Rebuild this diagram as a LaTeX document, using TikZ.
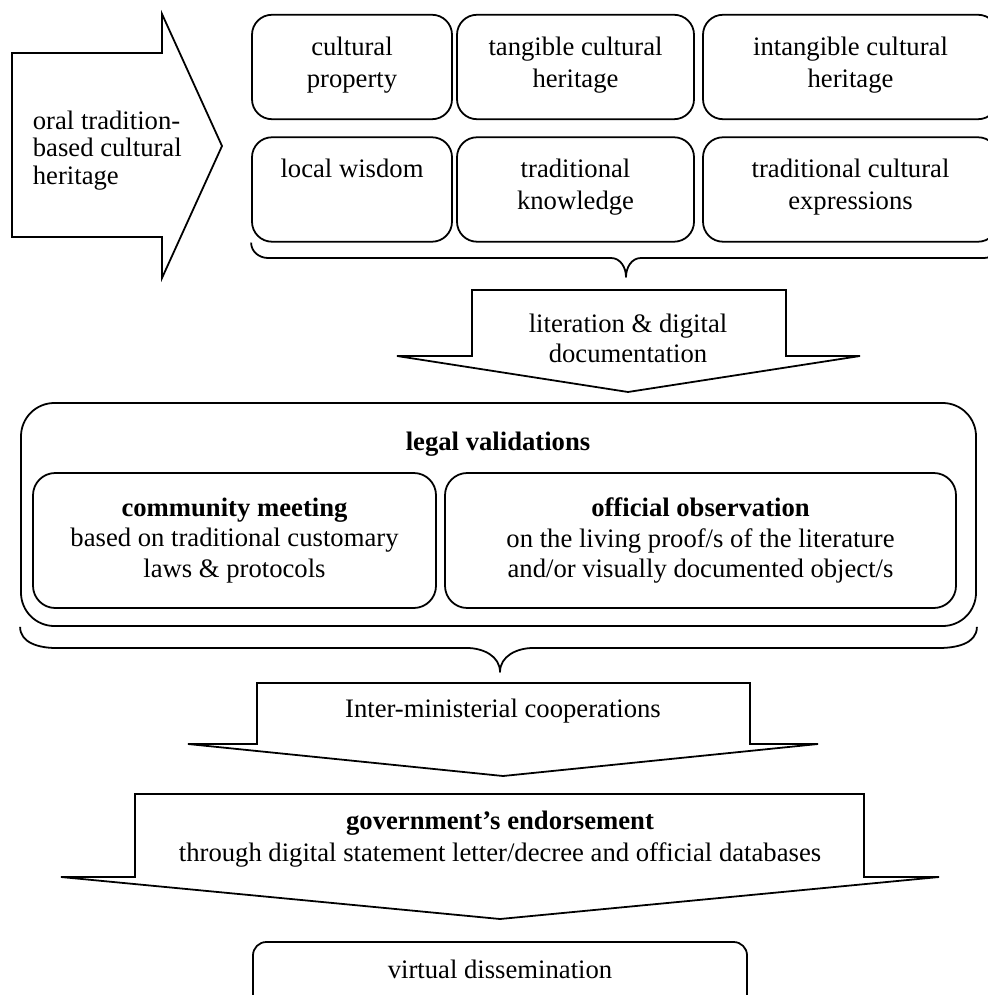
\documentclass[tikz,border=0pt]{standalone}
\usepackage{fontspec}
\setmainfont{Liberation Serif}
\usetikzlibrary{positioning}

\begin{document}
\begin{tikzpicture}[
    x=0.45pt,
    y=-0.45pt,
    line width=0.8pt,
    txt/.style={
        font=\fontsize{12}{14}\selectfont,
        inner sep=0pt
    },
    box/.style={
        rectangle,
        draw,
        rounded corners=9pt,
        inner sep=0pt,
        minimum height=47pt
    },
    boxtext/.style={
        align=center,
        inner sep=0pt,
        font=\fontsize{12}{14.4}\selectfont
    },
    panel/.style={
        rectangle,
        draw,
        rounded corners=10pt,
        minimum height=60.75pt,
        align=center,
        inner sep=0pt,
        font=\fontsize{12}{13.7}\selectfont
    },
    blockarrow/.style={
        draw,
        line join=miter
    },
    curlybrace/.style={
        draw,
        line join=round
    }
]

    \useasboundingbox (0,0) rectangle (987,995);

    % Source arrow
    \draw [blockarrow] (12,53) -- (162,53) -- (162,14) -- (222,146) -- (162,278) -- (162,237) -- (12,237) -- cycle;
    \node [txt, align=left, anchor=north west, font=\fontsize{12}{12.4}\selectfont] (oral) at (32,110) {oral tradition-\\based cultural\\heritage};

    % Heritage boxes
    \node [box, minimum width=90pt] (cprop) at (352,67) {};
    \node [box, minimum width=106.65pt] (tch) at (575.5,67) {};
    \node [box, minimum width=132.75pt] (ich) at (850.5,67) {};
    \node [box, minimum width=90pt] (lwis) at (352,189.5) {};
    \node [box, minimum width=106.65pt] (tknow) at (575.5,189.5) {};
    \node [box, minimum width=132.75pt] (tce) at (850.5,189.5) {};

    \node [boxtext, below=9.9pt of cprop.north] (cproptxt) {cultural\\property};
    \node [boxtext, below=9.9pt of tch.north] (tchtxt) {tangible cultural\\heritage};
    \node [boxtext, below=9.9pt of ich.north] (ichtxt) {intangible cultural\\heritage};
    \node [boxtext, below=9.9pt of lwis.north] (lwistxt) {local wisdom};
    \node [boxtext, below=9.9pt of tknow.north] (tknowtxt) {traditional\\knowledge};
    \node [boxtext, below=9.9pt of tce.north] (tcetxt) {traditional cultural\\expressions};

    % Brace under the boxes
    \draw [curlybrace] (lwis.south west) to[out=-90,in=180] (268,258) -- (611,258)
        to[out=0,in=90] (626,277) to[out=90,in=180] (641,258) -- (984,258)
        to[out=0,in=-90] (tce.south east);

    % Literation arrow
    \draw [blockarrow] (472,290) -- (786,290) -- (786,356) -- (860,356) -- (628,392) -- (397,356) -- (472,356) -- cycle;
    \node [txt, align=center, anchor=north, font=\fontsize{12}{13.5}\selectfont] (litdoc) at (628,313) {literation \& digital\\documentation};

    % Legal validations
    \node [box, rounded corners=15pt, minimum width=429.75pt, minimum height=100.35pt] (legal) at (498.5,514.5) {};
    \node [txt, anchor=base, font=\fontsize{12}{14}\selectfont\bfseries] (legaltxt) at (498,450) {legal validations};
    \node [panel, minimum width=181.35pt] (commeet) at (234.5,540.5) {\textbf{community meeting}\\based on traditional customary\\laws \& protocols};
    \node [panel, minimum width=229.95pt] (offobs) at (700.5,540.5) {\textbf{official observation}\\on the living proof/s of the literature\\and/or visually documented object/s};

    % Brace under legal validations
    \draw [curlybrace] (legal.south west) to[out=-90,in=180] (56,648) -- (467,648)
        to[out=0,in=90] (500,672) to[out=90,in=180] (533,648) -- (939,648)
        to[out=0,in=-90] (legal.south east);

    % Inter-ministerial arrow
    \draw [blockarrow] (257,683) -- (750,683) -- (750,744) -- (818,744) -- (503,776) -- (188,744) -- (257,744) -- cycle;
    \node [txt, anchor=base] (intermin) at (503,717) {Inter-ministerial cooperations};

    % Endorsement arrow
    \draw [blockarrow] (135,794) -- (864,794) -- (864,877) -- (939,877) -- (500,919) -- (61,877) -- (135,877) -- cycle;
    \node [txt, align=center, anchor=north, font=\fontsize{12}{14.4}\selectfont] (govend) at (500,810) {\textbf{government's endorsement}\\through digital statement letter/decree and official databases};

    % Dissemination
    \node [box, rounded corners=6pt, minimum width=222.3pt, minimum height=36pt] (virtdis) at (500,982) {};
    \node [txt, anchor=base] (virtdistxt) at (500,978) {virtual dissemination};

\end{tikzpicture}
\end{document}
